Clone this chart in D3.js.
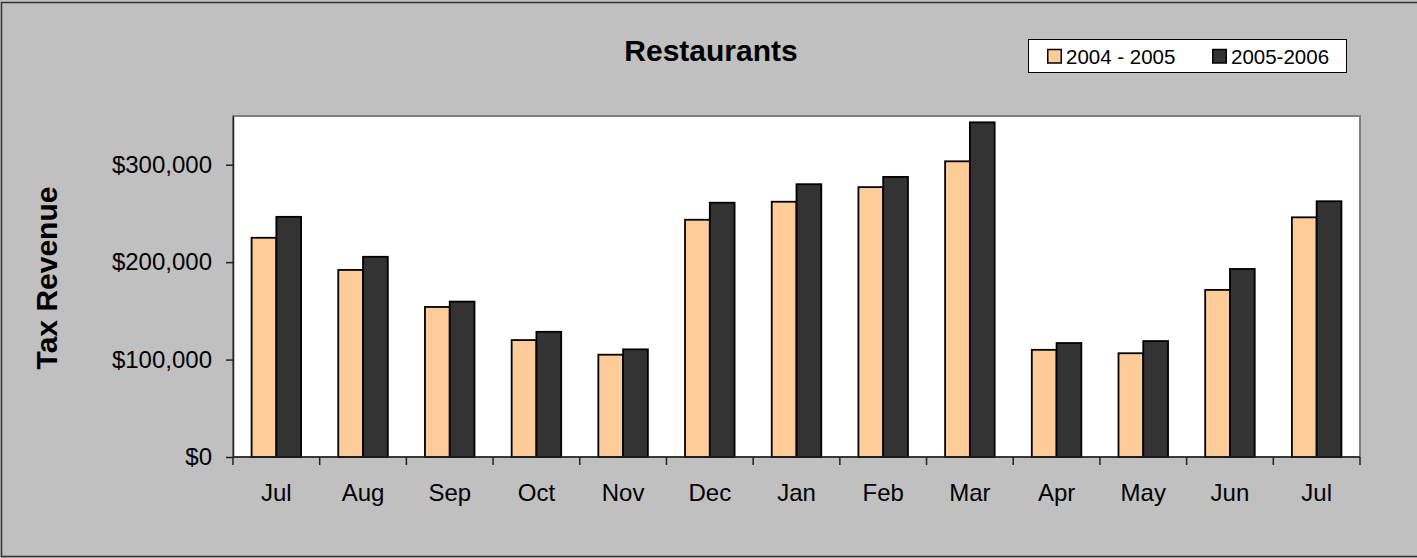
<!DOCTYPE html>
<html lang="en">
<head>
    <meta charset="UTF-8" />
    <title>Restaurants Tax Revenue</title>
    <script src="https://d3js.org/d3.v7.min.js"></script>
    <style>
        body { margin: 0; background: #c0c0c0; }
        svg { display: block; font-family: Arial, "Liberation Sans", sans-serif; }
    </style>
</head>

<body>
    <script>
        var w = 1417;
        var h = 558;

        // data
        var months = ["Jul", "Aug", "Sep", "Oct", "Nov", "Dec", "Jan", "Feb", "Mar", "Apr", "May", "Jun", "Jul"];
        var seriesNames = ["2004 - 2005", "2005-2006"];
        var revenue0405 = [225000, 192000, 154000, 120000, 105000, 243500, 262000, 277000, 303500, 110000, 106500, 171500, 246000];
        var revenue0506 = [246500, 205500, 159500, 128500, 110500, 261000, 280000, 287500, 343500, 117000, 119000, 193000, 262500];
        var yTicks = [0, 100000, 200000, 300000];
        var colors = ["#ffcc99", "#333333"];

        var margin = { left: 233, right: 57, top: 116, bottom: 101 };

        var svg = d3.select("body")
            .append("svg")
            .attr("width", w)
            .attr("height", h);

        // chart area
        svg.append("rect")
            .attr("x", 1.5)
            .attr("y", 2.5)
            .attr("width", w + 5)
            .attr("height", h - 4)
            .attr("fill", "#c0c0c0")
            .attr("stroke", "#333333")
            .attr("stroke-width", 1.5);

        // Scales
        var xScale = d3.scaleBand()
            .domain(d3.range(months.length))
            .range([margin.left, w - margin.right]);

        var xInner = d3.scaleBand()
            .domain([0, 1])
            .range([0, xScale.bandwidth()])
            .paddingOuter(0.75);

        var yScale = d3.scaleLinear()
            .domain([0, 350000])
            .range([h - margin.bottom, margin.top]);

        // plot area
        svg.append("rect")
            .attr("x", margin.left)
            .attr("y", margin.top)
            .attr("width", w - margin.left - margin.right)
            .attr("height", h - margin.top - margin.bottom)
            .attr("fill", "white")
            .attr("stroke", "#808080")
            .attr("stroke-width", 2);

        // bars
        var rows = months.map(function(m, i) {
            return [revenue0405[i], revenue0506[i]];
        });

        var groups = svg.selectAll("g.month")
            .data(rows)
            .enter()
            .append("g")
            .attr("class", "month")
            .attr("transform", function(d, i) {
                return "translate(" + xScale(i) + ",0)";
            });

        groups.selectAll("rect")
            .data(function(d) { return d; })
            .enter()
            .append("rect")
            .attr("x", function(d, j) { return xInner(j); })
            .attr("y", function(d) { return yScale(d); })
            .attr("width", xInner.bandwidth())
            .attr("height", function(d) { return yScale(0) - yScale(d); })
            .attr("fill", function(d, j) { return colors[j]; })
            .attr("stroke", "black")
            .attr("stroke-width", 1.8);

        // y axis
        var yAxis = svg.append("g")
            .attr("transform", "translate(" + margin.left + ",0)")
            .call(d3.axisLeft(yScale)
                .tickValues(yTicks)
                .tickFormat(d3.format("$,"))
                .tickSize(7)
                .tickSizeOuter(0)
                .tickPadding(14));

        yAxis.select(".domain").attr("stroke", "#222").attr("stroke-width", 1.5);
        yAxis.selectAll(".tick line").attr("stroke", "#222").attr("stroke-width", 1.5);
        yAxis.selectAll("text").attr("font-size", 24).attr("fill", "black")
            .attr("font-family", "Arial, 'Liberation Sans', sans-serif");

        // x axis: ticks on category boundaries, labels centred
        var xAxis = svg.append("g")
            .attr("transform", "translate(0," + (h - margin.bottom) + ")");

        xAxis.append("line")
            .attr("x1", margin.left)
            .attr("x2", w - margin.right)
            .attr("stroke", "#222")
            .attr("stroke-width", 1.5);

        var bounds = d3.range(months.length).map(function(i) { return xScale(i); });
        bounds.push(w - margin.right);

        xAxis.selectAll("line.tick")
            .data(bounds)
            .enter()
            .append("line")
            .attr("class", "tick")
            .attr("x1", function(d) { return d; })
            .attr("x2", function(d) { return d; })
            .attr("y1", 0)
            .attr("y2", 8)
            .attr("stroke", "#222")
            .attr("stroke-width", 1.5);

        xAxis.selectAll("text")
            .data(months)
            .enter()
            .append("text")
            .text(function(d) { return d; })
            .attr("x", function(d, i) { return xScale(i) + xScale.bandwidth() / 2; })
            .attr("y", 44)
            .attr("text-anchor", "middle")
            .attr("font-size", 24)
            .attr("fill", "black");

        // title
        svg.append("text")
            .text("Restaurants")
            .attr("x", 711)
            .attr("y", 61)
            .attr("text-anchor", "middle")
            .attr("font-size", 30)
            .attr("font-weight", "bold");

        // y axis title
        svg.append("text")
            .text("Tax Revenue")
            .attr("transform", "translate(57,278) rotate(-90)")
            .attr("text-anchor", "middle")
            .attr("font-size", 30)
            .attr("font-weight", "bold");

        // legend
        var legend = svg.append("g");

        legend.append("rect")
            .attr("x", 1028.5)
            .attr("y", 39.5)
            .attr("width", 318)
            .attr("height", 33)
            .attr("fill", "white")
            .attr("stroke", "black")
            .attr("stroke-width", 1);

        var legendX = [1047, 1212];

        var items = legend.selectAll("g.item")
            .data(seriesNames)
            .enter()
            .append("g")
            .attr("class", "item")
            .attr("transform", function(d, i) {
                return "translate(" + legendX[i] + ",0)";
            });

        items.append("rect")
            .attr("x", 0.75)
            .attr("y", 49.5)
            .attr("width", 13.5)
            .attr("height", 13.5)
            .attr("fill", function(d, i) { return colors[i]; })
            .attr("stroke", "black")
            .attr("stroke-width", 1.5);

        items.append("text")
            .text(function(d) { return d; })
            .attr("x", 19)
            .attr("y", 64)
            .attr("font-size", 20.5)
            .attr("fill", "black");
    </script>
</body>
</html>
